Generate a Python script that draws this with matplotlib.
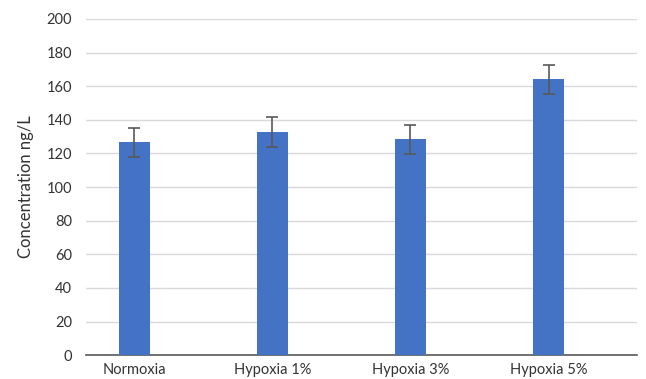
import numpy as np
from matplotlib import pyplot as plt

# concentrations (ng/L)
groups = ['Normoxia', 'Hypoxia 1%', 'Hypoxia 3%', 'Hypoxia 5%']
means = [126.5, 133.0, 128.5, 164.0]
errors = [8.8, 8.9, 8.7, 8.8]
yticks = [0, 20, 40, 60, 80, 100, 120, 140, 160, 180, 200]

plt.rcParams['font.family'] = ['Lato', 'DejaVu Sans']

fig = plt.figure(figsize=(6.46, 3.79), dpi=100)
ax = fig.add_axes([0.133, 0.063, 0.853, 0.887])

x = np.arange(len(groups))
ax.bar(x, means, width=0.225, color='#4472C4', zorder=3)
ax.errorbar(x, means, yerr=errors, fmt='none', ecolor='#595959',
            elinewidth=1.2, capsize=4, capthick=1.2, zorder=4)

ax.set_xlim(-0.35, 3.64)
ax.set_ylim(0, 200)
ax.set_yticks(yticks)
ax.set_xticks(x)
ax.set_xticklabels(groups)
ax.yaxis.grid(True, color='#D9D9D9', linewidth=1, zorder=0)

for side in ['top', 'right', 'left']:
    ax.spines[side].set_visible(False)
ax.spines['bottom'].set_color('#595959')
ax.spines['bottom'].set_linewidth(1.2)

ax.tick_params(axis='both', length=0, labelsize=10.5, colors='#333333')
ax.tick_params(axis='y', pad=10)
ax.tick_params(axis='x', pad=6)
ax.set_ylabel('Concentration ng/L', fontsize=12, color='#333333', labelpad=9)

plt.savefig('out.png', dpi=100)
